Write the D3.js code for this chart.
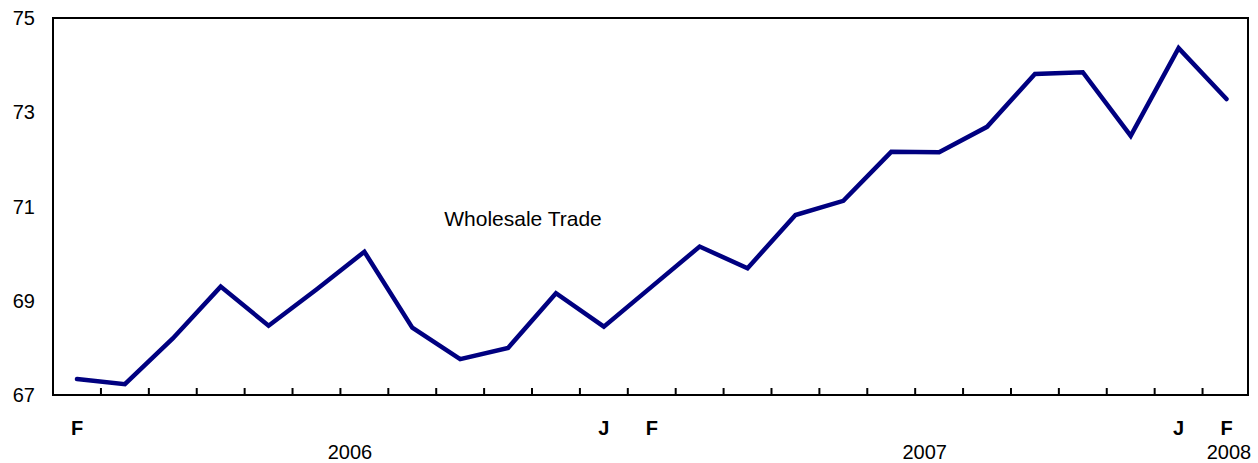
<!DOCTYPE html>
<html>
<head>
<meta charset="utf-8">
<script src="https://cdn.jsdelivr.net/npm/d3@7"></script>
<style>
  body { margin: 0; background: #fff; }
  text { font-family: "Liberation Sans", Arial, Helvetica, sans-serif; fill: #000; }
</style>
</head>
<body>
<div id="chart"></div>
<script>
// monthly series, Feb 2006 .. Feb 2008
var months = ["2006-02", "2006-03", "2006-04", "2006-05", "2006-06", "2006-07", "2006-08",
  "2006-09", "2006-10", "2006-11", "2006-12", "2007-01", "2007-02", "2007-03", "2007-04",
  "2007-05", "2007-06", "2007-07", "2007-08", "2007-09", "2007-10", "2007-11", "2007-12",
  "2008-01", "2008-02"];
var values = [67.34, 67.23, 68.2, 69.3, 68.47, 69.24, 70.04, 68.43, 67.76, 68.0, 69.16,
  68.45, 69.3, 70.15, 69.69, 70.82, 71.12, 72.16, 72.15, 72.69, 73.81, 73.85, 72.5,
  74.36, 73.28];
var yTicks = [67, 69, 71, 73, 75];
// month letters under the axis: [index, label]
var monthLabels = [[0, "F"], [11, "J"], [12, "F"], [23, "J"], [24, "F"]];
// year labels: [position in months, label]
var yearLabels = [[5.7, "2006"], [17.7, "2007"], [24.05, "2008"]];
var seriesName = "Wholesale Trade";

var width = 1258, height = 463;
var frame = { left: 53, right: 1248, top: 18, bottom: 395 };

var svg = d3.select("#chart")
  .append("svg")
  .attr("width", width)
  .attr("height", height);

var x = d3.scaleLinear().domain([0, months.length - 1]).range([77, 1226.5]);
var y = d3.scaleLinear().domain([67, 75]).range([frame.bottom, frame.top]);

// frame
svg.append("rect")
  .attr("x", frame.left)
  .attr("y", frame.top)
  .attr("width", frame.right - frame.left)
  .attr("height", frame.bottom - frame.top)
  .attr("fill", "none")
  .attr("stroke", "#000")
  .attr("stroke-width", 2);

// month ticks between points
svg.append("g")
  .selectAll("line")
  .data(d3.range(months.length - 1))
  .enter()
  .append("line")
  .attr("x1", function (d) { return x(d + 0.5); })
  .attr("x2", function (d) { return x(d + 0.5); })
  .attr("y1", frame.bottom)
  .attr("y2", frame.bottom - 7)
  .attr("stroke", "#000")
  .attr("stroke-width", 2);

// y labels
svg.append("g")
  .selectAll("text")
  .data(yTicks)
  .enter()
  .append("text")
  .attr("x", 35)
  .attr("y", function (d) { return y(d); })
  .attr("dy", "0.36em")
  .attr("text-anchor", "end")
  .attr("font-size", 20)
  .text(function (d) { return d; });

// month letters
svg.append("g")
  .selectAll("text")
  .data(monthLabels)
  .enter()
  .append("text")
  .attr("x", function (d) { return x(d[0]); })
  .attr("y", 435)
  .attr("text-anchor", "middle")
  .attr("font-size", 20)
  .attr("font-weight", "bold")
  .text(function (d) { return d[1]; });

// years
svg.append("g")
  .selectAll("text")
  .data(yearLabels)
  .enter()
  .append("text")
  .attr("x", function (d) { return x(d[0]); })
  .attr("y", 459)
  .attr("text-anchor", "middle")
  .attr("font-size", 20)
  .text(function (d) { return d[1]; });

// the line
var line = d3.line()
  .x(function (d, i) { return x(i); })
  .y(function (d) { return y(d); });

svg.append("path")
  .datum(values)
  .attr("d", line)
  .attr("fill", "none")
  .attr("stroke", "#000080")
  .attr("stroke-width", 4.5)
  .attr("stroke-linejoin", "miter")
  .attr("stroke-linecap", "round");

svg.append("text")
  .attr("x", 523)
  .attr("y", 226)
  .attr("text-anchor", "middle")
  .attr("font-size", 21)
  .text(seriesName);
</script>
</body>
</html>
